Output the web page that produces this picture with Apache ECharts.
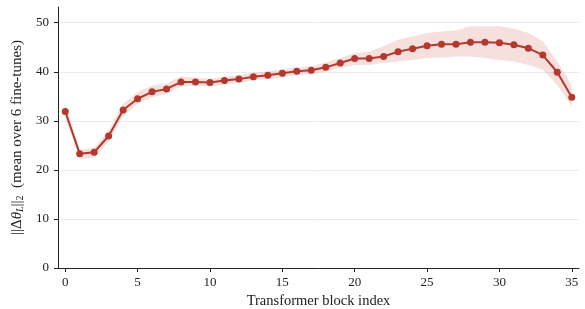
<!DOCTYPE html>
<html lang="en">
<head>
    <meta charset="utf-8">
    <title>Block update norms</title>
    <script src="https://cdn.jsdelivr.net/npm/echarts@6/dist/echarts.min.js"></script>
    <style>
        html, body { margin: 0; padding: 0; background: #fff; }
        #chart { width: 585px; height: 309px; }
    </style>
</head>
<body>
<div id="chart"></div>
<script type="text/javascript">
    // block index 0..35
    var blocks = [0,1,2,3,4,5,6,7,8,9,10,11,12,13,14,15,16,17,18,19,20,21,22,23,24,25,26,27,28,29,30,31,32,33,34,35];
    // mean norm per block
    var meanNorm = [31.9,23.3,23.6,26.9,32.2,34.5,35.9,36.5,37.9,37.9,37.8,38.2,38.5,39.0,39.3,39.7,40.1,40.3,40.9,41.8,
                    42.7,42.7,43.1,44.1,44.7,45.3,45.6,45.6,46.0,46.0,45.9,45.5,44.8,43.4,39.9,34.8];
    // shaded band (spread across fine-tunes)
    var upperBand = [33.5,24.1,24.5,28.0,33.5,35.8,37.2,37.6,39.1,38.8,38.6,39.0,39.3,39.8,40.1,40.5,40.9,41.1,41.9,42.8,
                     43.8,44.1,45.2,46.5,47.2,47.9,48.2,48.4,49.3,49.3,49.3,48.8,47.9,46.2,42.1,37.3];
    var lowerBand = [30.5,22.2,22.5,25.8,31.0,33.5,34.8,35.5,37.0,37.2,37.0,37.4,37.7,38.2,38.5,38.9,39.3,39.5,40.0,40.8,
                     41.4,41.4,41.8,42.1,42.4,42.8,42.9,43.1,43.1,42.8,42.4,42.1,41.4,40.4,37.3,32.9];
    var xTicks = [0,5,10,15,20,25,30,35];
    var yTicks = [0,10,20,30,40,50];

    var lineColor = '#b3392e';
    var font = 'Liberation Serif';

    var bandRows = [], meanPts = [];
    for (var i = 0; i < blocks.length; i++) {
        bandRows.push([blocks[i], lowerBand[i], upperBand[i]]);
        meanPts.push([blocks[i], meanNorm[i]]);
    }

    // band polygon: walk the upper edge forward, the lower edge back
    function renderBand(params, api) {
        if (params.dataIndex !== 0) return;
        var pts = [];
        for (var i = 0; i < bandRows.length; i++) {
            pts.push(api.coord([bandRows[i][0], bandRows[i][2]]));
        }
        for (var j = bandRows.length - 1; j >= 0; j--) {
            pts.push(api.coord([bandRows[j][0], bandRows[j][1]]));
        }
        return {
            type: 'polygon',
            shape: { points: pts },
            style: { fill: 'rgba(195,70,60,0.17)' },
            silent: true
        };
    }

    var myChart = echarts.init(document.getElementById('chart'));
    var option = {
        animation: false,
        backgroundColor: '#fff',
        grid: { left: 58, right: 6, top: 7, bottom: 41, containLabel: false, outerBoundsMode: 'none' },
        xAxis: {
            type: 'value',
            min: -0.5,
            max: 35.5,
            name: 'Transformer block index',
            nameLocation: 'middle',
            nameGap: 24,
            nameTextStyle: { fontFamily: font, fontSize: 14.5, color: '#222' },
            axisLine: { show: true, onZero: false, lineStyle: { color: '#222', width: 1 } },
            axisTick: { show: true, customValues: xTicks, length: 4, lineStyle: { color: '#222' } },
            axisLabel: { customValues: xTicks, fontFamily: font, fontSize: 13, color: '#222', margin: 8 },
            splitLine: { show: false }
        },
        yAxis: {
            type: 'value',
            min: 0,
            max: 53.2,
            name: '{n|||Δ}{i|θ}{s|L}{n|||}{s2|2}{n|  (mean over 6 fine-tunes)}',
            nameLocation: 'middle',
            nameGap: 28,
            nameRotate: 90,
            nameTextStyle: {
                fontFamily: font, fontSize: 15, color: '#222',
                rich: {
                    n: { fontFamily: font, fontSize: 15, color: '#222' },
                    i: { fontFamily: font, fontSize: 15, fontStyle: 'italic', color: '#222' },
                    s: { fontFamily: font, fontSize: 10, fontStyle: 'italic', color: '#222', verticalAlign: 'bottom', padding: [7, 0, 0, 0] },
                    s2: { fontFamily: font, fontSize: 10, color: '#222', verticalAlign: 'bottom', padding: [7, 0, 0, 0] }
                }
            },
            axisLine: { show: true, onZero: false, lineStyle: { color: '#222', width: 1 } },
            axisTick: { show: true, customValues: yTicks, length: 4, lineStyle: { color: '#222' } },
            axisLabel: { customValues: yTicks, fontFamily: font, fontSize: 13, color: '#222', margin: 9 },
            splitLine: { show: true, lineStyle: { color: '#ebebeb', width: 1 } }
        },
        series: [
            {
                type: 'custom',
                renderItem: renderBand,
                data: bandRows,
                encode: { x: 0, y: [1, 2] },
                silent: true,
                z: 1
            },
            {
                type: 'line',
                data: meanPts,
                symbol: 'circle',
                symbolSize: 7,
                itemStyle: { color: lineColor },
                lineStyle: { color: lineColor, width: 2 },
                z: 5
            }
        ]
    };
    myChart.setOption(option);
</script>
</body>
</html>
